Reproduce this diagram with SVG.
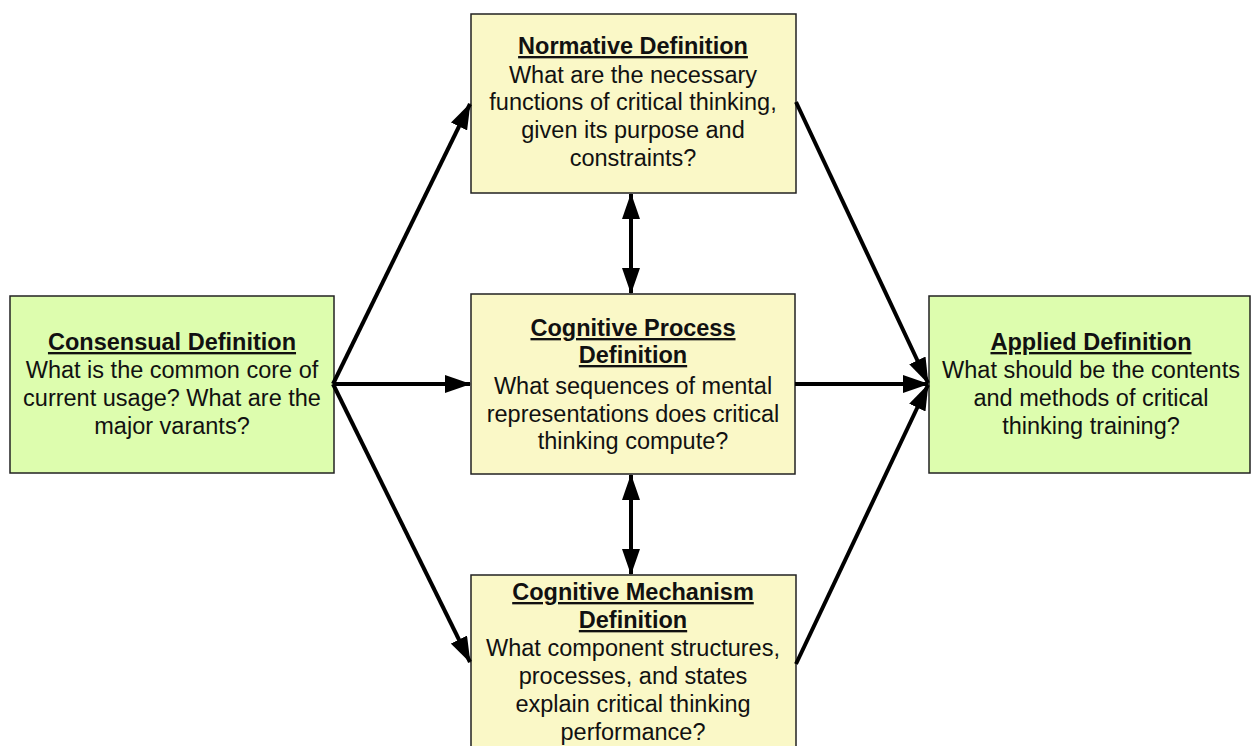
<svg xmlns="http://www.w3.org/2000/svg" width="1251" height="746" viewBox="0 0 1251 746">
  <style>
    .box { stroke: #222; stroke-width: 1.5; }
    .green { fill: #DDFDAE; }
    .yellow { fill: #FAF8C7; }
    text { font-family: "Liberation Sans", Arial, sans-serif; font-size: 23.5px; fill: #111; text-anchor: middle; }
    .title { font-weight: bold; text-decoration: underline; }
    .conn line { stroke: #000; stroke-width: 4; }
  </style>
  <defs>
    <marker id="head" viewBox="0 0 26 18" refX="25" refY="9" markerWidth="26" markerHeight="18" orient="auto-start-reverse" markerUnits="userSpaceOnUse">
      <path d="M0,0 L26,9 L0,18 Z" fill="#000"/>
    </marker>
  </defs>

  <rect width="1251" height="746" fill="#fff"/>

  <g id="consensual">
    <rect class="box green" x="10" y="296" width="324" height="177"/>
    <text class="title" x="172" y="350">Consensual Definition</text>
    <text x="172" y="378">What is the common core of</text>
    <text x="172" y="406">current usage? What are the</text>
    <text x="172" y="434">major varants?</text>
  </g>

  <g id="normative">
    <rect class="box yellow" x="471" y="14" width="325" height="179"/>
    <text class="title" x="633" y="54">Normative Definition</text>
    <text x="633" y="83">What are the necessary</text>
    <text x="633" y="110">functions of critical thinking,</text>
    <text x="633" y="138">given its purpose and</text>
    <text x="633" y="166">constraints?</text>
  </g>

  <g id="process">
    <rect class="box yellow" x="471" y="294" width="324" height="180"/>
    <text class="title" x="633" y="336">Cognitive Process</text>
    <text class="title" x="633" y="363">Definition</text>
    <text x="633" y="394">What sequences of mental</text>
    <text x="633" y="422">representations does critical</text>
    <text x="633" y="449">thinking compute?</text>
  </g>

  <g id="mechanism">
    <rect class="box yellow" x="471" y="575" width="325" height="190"/>
    <text class="title" x="633" y="600">Cognitive Mechanism</text>
    <text class="title" x="633" y="628">Definition</text>
    <text x="633" y="656">What component structures,</text>
    <text x="633" y="684">processes, and states</text>
    <text x="633" y="712">explain critical thinking</text>
    <text x="633" y="740">performance?</text>
  </g>

  <g id="applied">
    <rect class="box green" x="929" y="296" width="321" height="177"/>
    <text class="title" x="1091" y="350">Applied Definition</text>
    <text x="1091" y="378">What should be the contents</text>
    <text x="1091" y="406">and methods of critical</text>
    <text x="1091" y="434">thinking training?</text>
  </g>

  <g id="connectors" class="conn">
    <line x1="333" y1="384" x2="470" y2="104" marker-end="url(#head)"/>
    <line x1="333" y1="384" x2="470" y2="384" marker-end="url(#head)"/>
    <line x1="333" y1="384" x2="470" y2="662" marker-end="url(#head)"/>
    <line x1="796" y1="102" x2="928" y2="383" marker-end="url(#head)"/>
    <line x1="795" y1="384" x2="928" y2="384" marker-end="url(#head)"/>
    <line x1="796" y1="664" x2="928" y2="385" marker-end="url(#head)"/>
    <line x1="631" y1="194" x2="631" y2="293" marker-start="url(#head)" marker-end="url(#head)"/>
    <line x1="631" y1="475" x2="631" y2="574" marker-start="url(#head)" marker-end="url(#head)"/>
  </g>
</svg>
